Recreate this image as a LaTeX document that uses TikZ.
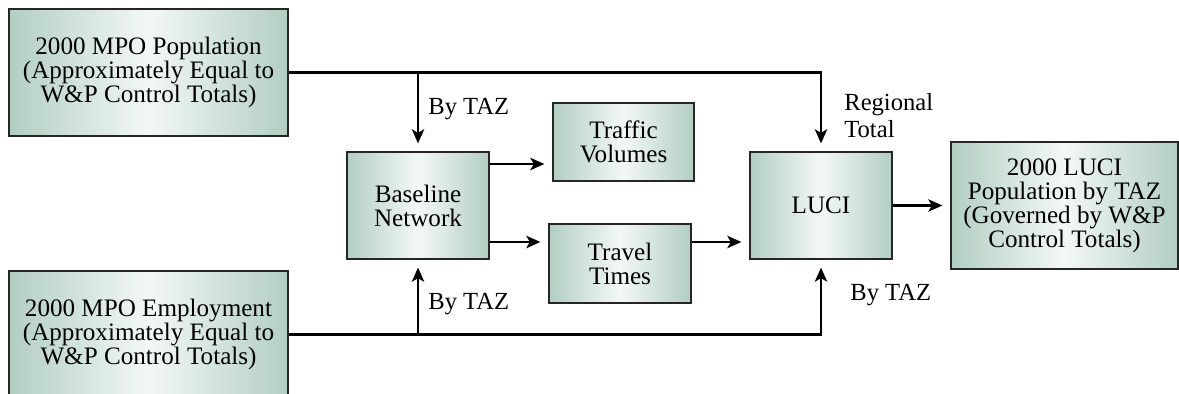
\documentclass[tikz,border=0pt]{standalone}
\usepackage{fontspec}
\setmainfont{Liberation Serif}
\usetikzlibrary{arrows.meta, calc, positioning}
\definecolor{boxedge}{RGB}{178,206,195}
\definecolor{boxmid}{RGB}{243,248,246}
\newcommand{\boxfont}{\fontsize{14.3}{13.6}\selectfont\lineskiplimit=-20pt\relax}
\tikzset{
  flowbox/.style={draw=black!85, line width=0.7pt, left color=boxedge, right color=boxedge,
    middle color=boxmid, align=center, inner sep=2pt, font=\boxfont},
  conn/.style={line width=1.4pt, -{Stealth[length=8pt,width=7pt,inset=2pt]}, shorten >=0.16cm},
  lbl/.style={font=\fontsize{14}{15.3}\selectfont, inner sep=0pt, align=left},
}

\begin{document}
\begin{tikzpicture}[x=0.02cm, y=-0.02cm]
  \clip (0,0) rectangle (1179,394);
  % inputs
  \node[flowbox, minimum width=5.58cm, minimum height=2.54cm] (pop) at (148.5,72.5)
    {2000 MPO Population\\(Approximately Equal to\\W\&P Control Totals)};
  \node[flowbox, minimum width=5.58cm, minimum height=2.54cm] (emp) at (148.5,334.5)
    {2000 MPO Employment\\(Approximately Equal to\\W\&P Control Totals)};
  % middle
  \node[flowbox, minimum width=2.84cm, minimum height=2.14cm] (base) at (418,205.5) {Baseline\\Network};
  \node[flowbox, minimum width=2.82cm, minimum height=1.56cm] (traffic) at (623.5,142) {Traffic\\Volumes};
  \node[flowbox, minimum width=2.84cm, minimum height=1.58cm] (travel) at (620,263.5) {Travel\\Times};
  \node[flowbox, minimum width=2.84cm, minimum height=2.14cm] (luci) at (821,205.5) {LUCI};
  \node[flowbox, minimum width=4.54cm, minimum height=2.54cm] (out) at (1064.5,205.5)
    {2000 LUCI\\Population by TAZ\\(Governed by W\&P\\Control Totals)};
  \coordinate (tvrow) at (0,164);
  \coordinate (ttrow) at (0,242);
  % connectors
  \draw[conn] (pop.east) -| (luci.north);
  \draw[conn] (pop.east -| base.north) -- (base.north);
  \draw[conn] (emp.east) -| (luci.south);
  \draw[conn] (emp.east -| base.south) -- (base.south);
  \draw[conn] (base.east |- tvrow) -- (traffic.west |- tvrow);
  \draw[conn] (base.east |- ttrow) -- (travel.west |- ttrow);
  \draw[conn] (travel.east |- ttrow) -- (luci.west |- ttrow);
  \draw[conn] (luci.east) -- (out.west);
  % labels
  \node[lbl, anchor=base west] (taztop) at (428,115) {By TAZ};
  \node[lbl, anchor=north west] (regtot) at (844,93) {Regional\\Total};
  \node[lbl, anchor=base west] (tazbase) at (428,310) {By TAZ};
  \node[lbl, anchor=base west] (tazluci) at (850,301) {By TAZ};
\end{tikzpicture}
\end{document}
